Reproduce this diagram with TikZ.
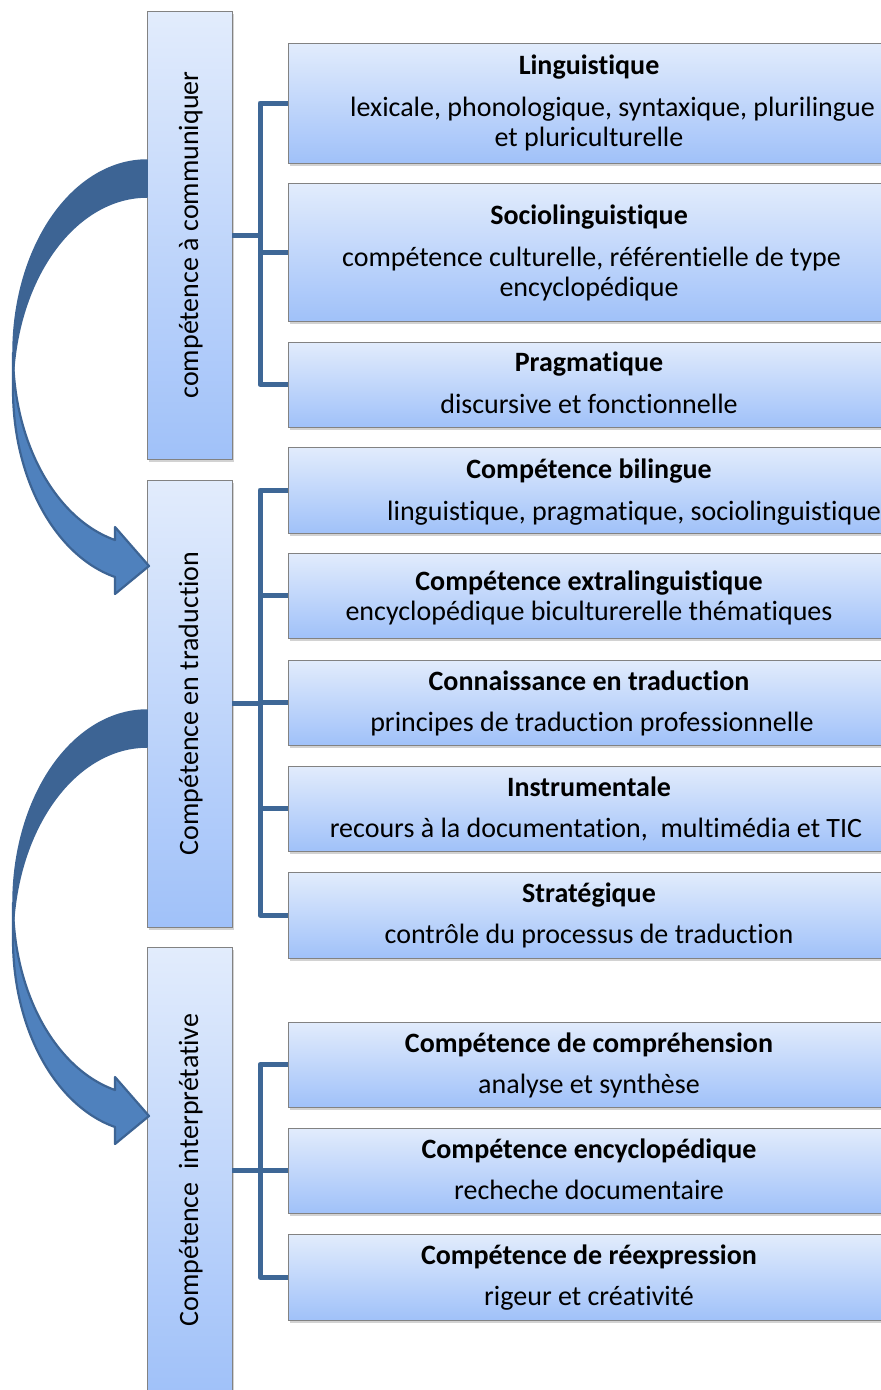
\documentclass[tikz,border=0pt]{standalone}
\usepackage{fontspec}
\setmainfont{Carlito}[Ligatures={NoCommon,NoContextual}, Contextuals=NoAlternate]
\usetikzlibrary{shadows}
\definecolor{lineblue}{RGB}{62,103,150}
\definecolor{arrdark}{RGB}{61,100,148}
\definecolor{arrlight}{RGB}{79,129,189}
\definecolor{boxtop}{RGB}{226,236,252}
\definecolor{boxbot}{RGB}{160,193,249}
\definecolor{boxline}{RGB}{130,130,130}
\tikzset{
  boxbase/.style={draw=boxline, line width=0.8pt, top color=boxtop, bottom color=boxbot,
    inner sep=0pt, drop shadow={shadow xshift=2pt, shadow yshift=-2.5pt, opacity=0.35}},
  lbox/.style={boxbase, minimum width=85pt},
  rbox/.style={boxbase, minimum width=640pt, anchor=west},
  conn/.style={draw=lineblue, line width=5pt, line join=round},
  ttl/.style={font=\fontsize{28}{30}\bfseries\selectfont, inner sep=0pt, anchor=base},
  txt/.style={font=\fontsize{28}{30}\selectfont, inner sep=0pt, anchor=base},
  vtxt/.style={font=\fontsize{28}{30}\selectfont, inner sep=0pt, anchor=base, rotate=90},
  curvarrow/.pic={
    \filldraw[fill=arrdark, draw=arrdark, line width=1.5pt, line join=round]
      plot[domain=270:180, samples=60, variable=\a] ({147+134*cos(\a)},{352.8+192.8*sin(\a)})
      -- plot[domain=180:270, samples=60, variable=\a] ({147+134*cos(\a)},{389.8+192.8*sin(\a)})
      -- cycle;
    \filldraw[fill=arrlight, draw=arrdark, line width=2.2pt, line join=round]
      plot[domain=180:103.8, samples=60, variable=\a] ({147+134*cos(\a)},{352.8+192.8*sin(\a)})
      -- (115,527) -- (149,566) -- (115,594) -- (115,577)
      -- plot[domain=103.8:180, samples=60, variable=\a] ({147+134*cos(\a)},{389.8+192.8*sin(\a)})
      -- cycle;
  }
}
\begin{document}
\begin{tikzpicture}[x=1pt, y=-1pt]
\useasboundingbox (0,0) rectangle (881,1390);
\fill[white] (0,0) rectangle (881,1390);
\begin{scope}
\clip (0,0) rectangle (881,1390);
% left boxes
\node[lbox, minimum height=448pt] (L1) at (189.5,235) {};
\node[lbox, minimum height=447pt] (L2) at (189.5,703.5) {};
\node[lbox, minimum height=446pt] (L3) at (189.5,1170) {};
\node[vtxt] (L1t) at (198,235) {compétence à communiquer};
\node[vtxt] (L2t) at (198,703.5) {Compétence en traduction};
\node[vtxt] (L3t) at (198,1170) {Compétence~~interprétative};
% trunk positions
\coordinate (t1) at (260,0);
% right boxes
\node[rbox, minimum height=120pt] (R1) at (288,103) {};
\node[rbox, minimum height=138pt] (R2) at (288,252) {};
\node[rbox, minimum height=85pt] (R3) at (288,384.5) {};
\node[rbox, minimum height=86pt] (R4) at (288,490) {};
\node[rbox, minimum height=85pt] (R5) at (288,595.5) {};
\node[rbox, minimum height=85pt] (R6) at (288,702.5) {};
\node[rbox, minimum height=85pt] (R7) at (288,808.5) {};
\node[rbox, minimum height=86pt] (R8) at (288,915) {};
\node[rbox, minimum height=85pt] (R9) at (288,1064.5) {};
\node[rbox, minimum height=85pt] (R10) at (288,1170.5) {};
\node[rbox, minimum height=86pt] (R11) at (288,1277) {};
% connectors group 1
\draw[conn] (L1.east) -- (L1.east -| t1);
\draw[conn] (R1.west) -- (R1.west -| t1) -- (R3.west -| t1) -- (R3.west);
\draw[conn] (R2.west) -- (R2.west -| t1);
% group 2
\draw[conn] (L2.east) -- (L2.east -| t1);
\draw[conn] (R4.west) -- (R4.west -| t1) -- (R8.west -| t1) -- (R8.west);
\draw[conn] (R5.west) -- (R5.west -| t1);
\draw[conn] (R6.west) -- (R6.west -| t1);
\draw[conn] (R7.west) -- (R7.west -| t1);
% group 3
\draw[conn] (L3.east) -- (L3.east -| t1);
\draw[conn] (R9.west) -- (R9.west -| t1) -- (R11.west -| t1) -- (R11.west);
\draw[conn] (R10.west) -- (R10.west -| t1);
% texts
\node[ttl] (T1) at (589,74.5) {Linguistique};
\node[txt, anchor=base west] (D1a) at (350,116.5) {lexicale, phonologique, syntaxique, plurilingue};
\node[txt] (D1b) at (589,146.5) {et pluriculturelle};
\node[ttl] (T2) at (589,224.5) {Sociolinguistique};
\node[txt] (D2a) at (591.5,266.5) {compétence culturelle, référentielle de type};
\node[txt] (D2b) at (589,296.5) {encyclopédique};
\node[ttl] (T3) at (589,371.5) {Pragmatique};
\node[txt] (D3) at (589,413.5) {discursive et fonctionnelle};
\node[ttl] (T4) at (589,478.5) {Compétence bilingue};
\node[txt, anchor=base west] (D4) at (387,520.5) {linguistique, pragmatique, sociolinguistique};
\node[ttl] (T5) at (589,590.5) {Compétence extralinguistique};
\node[txt] (D5) at (589,620.5) {encyclopédique biculturerelle thématiques};
\node[ttl] (T6) at (589,690.5) {Connaissance en traduction};
\node[txt] (D6) at (592,731.5) {principes de traduction professionnelle};
\node[ttl] (T7) at (589,796.5) {Instrumentale};
\node[txt] (D7) at (596,837.5) {recours à la documentation,~ multimédia et TIC};
\node[ttl] (T8) at (589,902.5) {Stratégique};
\node[txt] (D8) at (589,943.5) {contrôle du processus de traduction};
\node[ttl] (T9) at (589,1052.5) {Compétence de compréhension};
\node[txt] (D9) at (589,1093.5) {analyse et synthèse};
\node[ttl] (T10) at (589,1158.5) {Compétence encyclopédique};
\node[txt] (D10) at (589,1199.5) {recheche documentaire};
\node[ttl] (T11) at (589,1264.5) {Compétence de réexpression};
\node[txt] (D11) at (589,1305.5) {rigeur et créativité};
% curved arrows
\pic (A1) at (0,0) {curvarrow};
\pic (A2) at (0,550) {curvarrow};
\end{scope}
\end{tikzpicture}
\end{document}
